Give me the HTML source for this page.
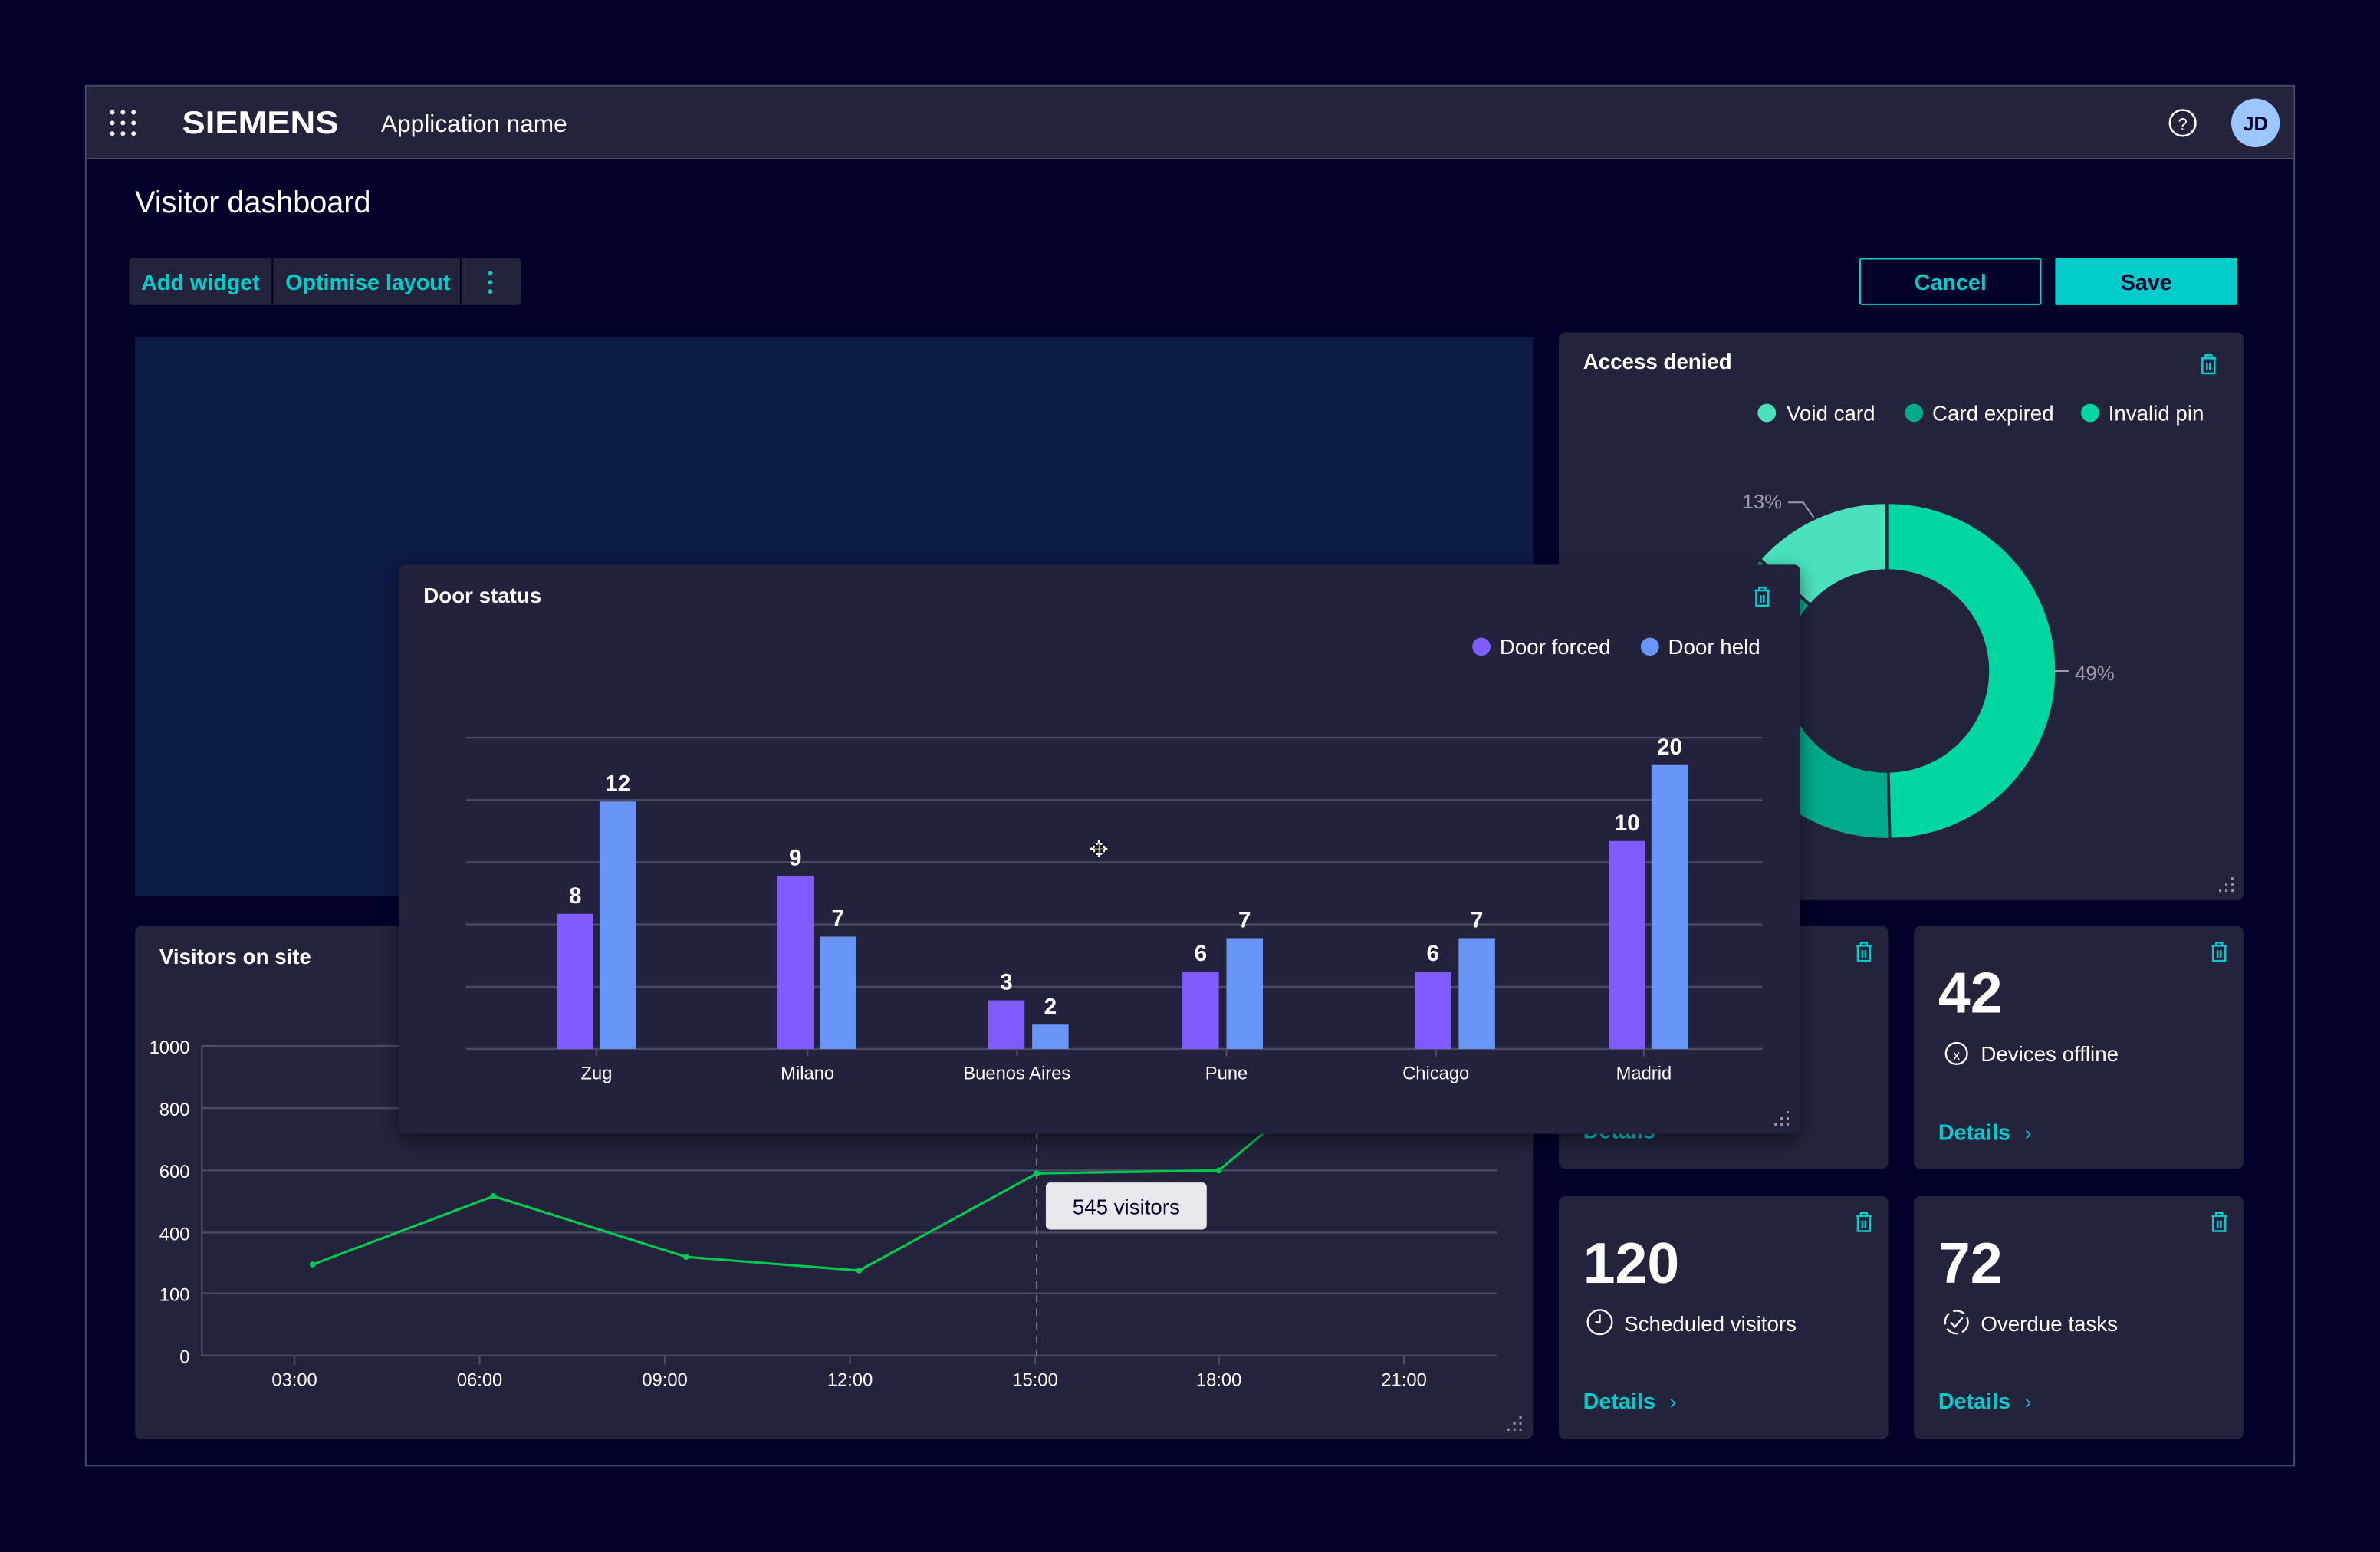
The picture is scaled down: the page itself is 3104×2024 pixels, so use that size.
<!DOCTYPE html>
<html><head><meta charset="utf-8"><style>
html,body{margin:0;padding:0;background:#000028;}
svg{display:block;}
text{font-family:"Liberation Sans",sans-serif;}
</style></head><body>
<svg width="3104" height="2024" viewBox="0 0 1568 1022.4" preserveAspectRatio="none" xmlns="http://www.w3.org/2000/svg">
<defs>
<filter id="sh" x="-5%" y="-5%" width="110%" height="115%"><feDropShadow dx="0" dy="4" stdDeviation="6" flood-color="#000" flood-opacity="0.5"/></filter>
<g id="trash" fill="none" stroke="#00cccc" stroke-width="1.3"><path d="M-5,-4 h10 M-2,-4 v-2 h4 v2 M-4,-4 v10 h8 v-10 M-1,-1 v5 M1,-1 v5"/></g>
<g id="rs" fill="#9a9aa8"><rect x="4" y="-4" width="1.5" height="1.5"/><rect x="0" y="0" width="1.5" height="1.5"/><rect x="4" y="0" width="1.5" height="1.5"/><rect x="-4" y="4" width="1.5" height="1.5"/><rect x="0" y="4" width="1.5" height="1.5"/><rect x="4" y="4" width="1.5" height="1.5"/></g>
</defs>
<rect width="1568" height="1023" fill="#000028"/>
<rect x="56.5" y="56.5" width="1455" height="909" fill="#000028" stroke="#4a4a62" stroke-width="1"/>
<rect x="57" y="57" width="1454" height="47" fill="#23233c"/>
<line x1="57" y1="104.5" x2="1511" y2="104.5" stroke="#4a4a62"/>
<g fill="#fff"><circle cx="74" cy="74" r="1.5"/><circle cx="81" cy="74" r="1.5"/><circle cx="88" cy="74" r="1.5"/><circle cx="74" cy="81" r="1.5"/><circle cx="81" cy="81" r="1.5"/><circle cx="88" cy="81" r="1.5"/><circle cx="74" cy="88" r="1.5"/><circle cx="81" cy="88" r="1.5"/><circle cx="88" cy="88" r="1.5"/></g>
<text x="120" y="88" fill="#fff" font-size="21" font-weight="bold" textLength="103" lengthAdjust="spacingAndGlyphs">SIEMENS</text>
<text x="251" y="87" fill="#fff" font-size="16">Application name</text>
<circle cx="1438" cy="81" r="8.5" fill="none" stroke="#fff" stroke-width="1.3"/><text x="1438" y="85.5" fill="#fff" font-size="11" text-anchor="middle">?</text>
<circle cx="1486" cy="81" r="16" fill="#9bc6ff"/><text x="1486" y="86" fill="#000028" font-size="13" font-weight="bold" text-anchor="middle">JD</text>
<text x="89" y="140" fill="#fff" font-size="20">Visitor dashboard</text>
<rect x="85" y="170" width="258" height="31" rx="2" fill="#23233c"/>
<line x1="179.5" y1="170" x2="179.5" y2="201" stroke="#000028"/><line x1="303.5" y1="170" x2="303.5" y2="201" stroke="#000028"/>
<text x="93" y="191" fill="#00cccc" font-size="14.5" font-weight="bold">Add widget</text>
<text x="188" y="191" fill="#00cccc" font-size="14.5" font-weight="bold">Optimise layout</text>
<g fill="#00cccc"><circle cx="323" cy="180" r="1.5"/><circle cx="323" cy="186" r="1.5"/><circle cx="323" cy="192" r="1.5"/></g>
<rect x="1225.5" y="170.5" width="119" height="30" rx="1" fill="none" stroke="#00cccc"/>
<text x="1285" y="191" fill="#00cccc" font-size="14.5" font-weight="bold" text-anchor="middle">Cancel</text>
<rect x="1354" y="170" width="120" height="31" rx="1" fill="#00cccc"/>
<text x="1414" y="191" fill="#000028" font-size="14.5" font-weight="bold" text-anchor="middle">Save</text>
<rect x="89" y="222" width="921" height="368" fill="#0b1a45"/>
<!-- Access denied -->
<rect x="1027" y="219" width="451" height="374" rx="4" fill="#23233c"/>
<text x="1043" y="243" fill="#fff" font-size="14" font-weight="bold">Access denied</text>
<use href="#trash" x="1455" y="240"/>
<circle cx="1164" cy="272" r="6" fill="#4ae2bd"/><text x="1177" y="277" fill="#fff" font-size="14">Void card</text>
<circle cx="1261" cy="272" r="6" fill="#00aa8c"/><text x="1273" y="277" fill="#fff" font-size="14">Card expired</text>
<circle cx="1377" cy="272" r="6" fill="#00d7a0"/><text x="1389" y="277" fill="#fff" font-size="14">Invalid pin</text>
<path d="M1243,332 A110,110 0 0 1 1245,552 L1244,509 A67,67 0 0 0 1243,375 Z" fill="#00d7a0"/>
<path d="M1245,552 A110,110 0 0 1 1160,369 L1192,398 A67,67 0 0 0 1244,509 Z" fill="#00aa8c"/>
<path d="M1160,369 A110,110 0 0 1 1243,332 L1243,375 A67,67 0 0 0 1192,398 Z" fill="#4ae2bd"/>
<g stroke="#23233c" stroke-width="2"><line x1="1243" y1="331" x2="1243" y2="376"/><line x1="1244" y1="508" x2="1245" y2="553"/><line x1="1159" y1="368" x2="1193" y2="399"/></g>
<path d="M1178,331 h10 l7,10" fill="none" stroke="#9a9aa8"/><text x="1148" y="335" fill="#9a9aa8" font-size="13">13%</text>
<line x1="1353" y1="442" x2="1363" y2="442" stroke="#9a9aa8"/><text x="1367" y="448" fill="#9a9aa8" font-size="13">49%</text>
<use href="#rs" x="1466" y="582"/>
<!-- Visitors on site -->
<rect x="89" y="610" width="921" height="338" rx="4" fill="#23233c"/>
<text x="105" y="635" fill="#fff" font-size="14" font-weight="bold">Visitors on site</text>
<g stroke="#4a4a62" stroke-width="1.2"><line x1="133" y1="689" x2="986" y2="689"/><line x1="133" y1="730" x2="986" y2="730"/><line x1="133" y1="771" x2="986" y2="771"/><line x1="133" y1="812" x2="986" y2="812"/><line x1="133" y1="852" x2="986" y2="852"/><line x1="133" y1="893" x2="986" y2="893"/><line x1="133" y1="689" x2="133" y2="893"/>
<line x1="194" y1="893" x2="194" y2="899"/><line x1="316" y1="893" x2="316" y2="899"/><line x1="438" y1="893" x2="438" y2="899"/><line x1="560" y1="893" x2="560" y2="899"/><line x1="682" y1="893" x2="682" y2="899"/><line x1="803" y1="893" x2="803" y2="899"/><line x1="925" y1="893" x2="925" y2="899"/></g>
<g fill="#fff" font-size="12" text-anchor="end"><text x="125" y="694">1000</text><text x="125" y="735">800</text><text x="125" y="776">600</text><text x="125" y="817">400</text><text x="125" y="857">100</text><text x="125" y="898">0</text></g>
<g fill="#fff" font-size="12" text-anchor="middle"><text x="194" y="913">03:00</text><text x="316" y="913">06:00</text><text x="438" y="913">09:00</text><text x="560" y="913">12:00</text><text x="682" y="913">15:00</text><text x="803" y="913">18:00</text><text x="925" y="913">21:00</text></g>
<line x1="683" y1="745" x2="683" y2="893" stroke="#7a7a8c" stroke-dasharray="5,4"/>
<polyline points="206,833 325,788 452,828 566,837 683,773 803,771 900,690" fill="none" stroke="#00c853" stroke-width="1.6"/>
<g fill="#00c853"><circle cx="206" cy="833" r="2"/><circle cx="325" cy="788" r="2"/><circle cx="452" cy="828" r="2"/><circle cx="566" cy="837" r="2"/><circle cx="683" cy="773" r="2"/><circle cx="803" cy="771" r="2"/></g>
<rect x="689" y="779" width="106" height="31" rx="3" fill="#e8e8ee"/>
<text x="742" y="800" fill="#000028" font-size="14" text-anchor="middle">545 visitors</text>
<use href="#rs" x="997" y="937"/>
<!-- small cards -->
<rect x="1027" y="610" width="217" height="160" rx="4" fill="#23233c"/>
<use href="#trash" x="1228" y="627"/>
<text x="1043" y="750" fill="#00cccc" font-size="14.5" font-weight="bold">Details</text>
<rect x="1261" y="610" width="217" height="160" rx="4" fill="#23233c"/>
<use href="#trash" x="1462" y="627"/>
<text x="1277" y="667" fill="#fff" font-size="38" font-weight="bold">42</text>
<circle cx="1289" cy="694" r="7" fill="none" stroke="#fff" stroke-width="1.2"/><text x="1289" y="698" fill="#fff" font-size="9" text-anchor="middle">x</text>
<text x="1305" y="699" fill="#fff" font-size="14">Devices offline</text>
<text x="1277" y="751" fill="#00cccc" font-size="14.5" font-weight="bold">Details</text><text x="1334" y="751" fill="#00cccc" font-size="13">›</text>
<rect x="1027" y="788" width="217" height="160" rx="4" fill="#23233c"/>
<use href="#trash" x="1228" y="805"/>
<text x="1043" y="845" fill="#fff" font-size="38" font-weight="bold">120</text>
<circle cx="1054" cy="871" r="8" fill="none" stroke="#fff" stroke-width="1.2"/><path d="M1054,866 v5 h-3" fill="none" stroke="#fff" stroke-width="1.2"/>
<text x="1070" y="877" fill="#fff" font-size="14">Scheduled visitors</text>
<text x="1043" y="928" fill="#00cccc" font-size="14.5" font-weight="bold">Details</text><text x="1100" y="928" fill="#00cccc" font-size="13">›</text>
<rect x="1261" y="788" width="217" height="160" rx="4" fill="#23233c"/>
<use href="#trash" x="1462" y="805"/>
<text x="1277" y="845" fill="#fff" font-size="38" font-weight="bold">72</text>
<circle cx="1289" cy="871" r="7.5" fill="none" stroke="#fff" stroke-width="1.2" stroke-dasharray="8,3"/><path d="M1285,871 l3,3 l5,-6" fill="none" stroke="#fff" stroke-width="1.2"/>
<text x="1305" y="877" fill="#fff" font-size="14">Overdue tasks</text>
<text x="1277" y="928" fill="#00cccc" font-size="14.5" font-weight="bold">Details</text><text x="1334" y="928" fill="#00cccc" font-size="13">›</text>
<!-- Door status -->
<rect x="263" y="372" width="923" height="375" rx="4" fill="#23233c" filter="url(#sh)"/>
<text x="279" y="397" fill="#fff" font-size="14" font-weight="bold">Door status</text>
<use href="#trash" x="1161" y="393"/>
<circle cx="976" cy="426" r="6" fill="#805cff"/><text x="988" y="431" fill="#fff" font-size="14">Door forced</text>
<circle cx="1087" cy="426" r="6" fill="#6895f6"/><text x="1099" y="431" fill="#fff" font-size="14">Door held</text>
<g stroke="#4a4a62" stroke-width="1.2"><line x1="307" y1="486" x2="1161" y2="486"/><line x1="307" y1="527" x2="1161" y2="527"/><line x1="307" y1="568" x2="1161" y2="568"/><line x1="307" y1="609" x2="1161" y2="609"/><line x1="307" y1="650" x2="1161" y2="650"/><line x1="307" y1="691" x2="1161" y2="691"/>
<line x1="393" y1="691" x2="393" y2="696"/><line x1="532" y1="691" x2="532" y2="696"/><line x1="670" y1="691" x2="670" y2="696"/><line x1="808" y1="691" x2="808" y2="696"/><line x1="946" y1="691" x2="946" y2="696"/><line x1="1083" y1="691" x2="1083" y2="696"/></g>
<g fill="#805cff"><rect x="367" y="602" width="24" height="89"/><rect x="512" y="577" width="24" height="114"/><rect x="651" y="659" width="24" height="32"/><rect x="779" y="640" width="24" height="51"/><rect x="932" y="640" width="24" height="51"/><rect x="1060" y="554" width="24" height="137"/></g>
<g fill="#6895f6"><rect x="395" y="528" width="24" height="163"/><rect x="540" y="617" width="24" height="74"/><rect x="680" y="675" width="24" height="16"/><rect x="808" y="618" width="24" height="73"/><rect x="961" y="618" width="24" height="73"/><rect x="1088" y="504" width="24" height="187"/></g>
<g fill="#fff" font-size="15" font-weight="bold" text-anchor="middle"><text x="379" y="595">8</text><text x="407" y="521">12</text><text x="524" y="570">9</text><text x="552" y="610">7</text><text x="663" y="652">3</text><text x="692" y="668">2</text><text x="791" y="633">6</text><text x="820" y="611">7</text><text x="944" y="633">6</text><text x="973" y="611">7</text><text x="1072" y="547">10</text><text x="1100" y="497">20</text></g>
<g fill="#fff" font-size="12" text-anchor="middle"><text x="393" y="711">Zug</text><text x="532" y="711">Milano</text><text x="670" y="711">Buenos Aires</text><text x="808" y="711">Pune</text><text x="946" y="711">Chicago</text><text x="1083" y="711">Madrid</text></g>
<text x="724" y="565" fill="#fff" stroke="#000" stroke-width="0.5" font-size="16" text-anchor="middle">✥</text>
<use href="#rs" x="1173" y="736"/>
</svg>
</body></html>
